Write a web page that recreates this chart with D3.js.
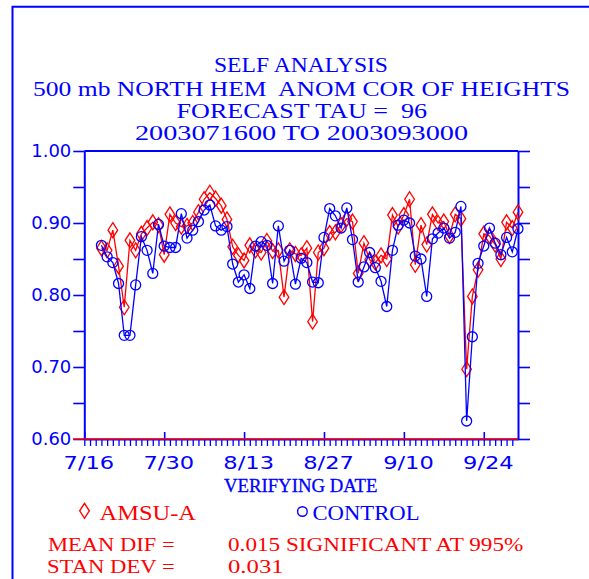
<!DOCTYPE html>
<html><head><meta charset="utf-8">
<script src="https://cdn.jsdelivr.net/npm/d3@7"></script>
<style>html,body{margin:0;padding:0;background:#fff;} svg{display:block;} text{white-space:pre;}</style>
</head><body>
<script>
// ---------------- data ----------------
const titleLines = ["SELF ANALYSIS", "500 mb NORTH HEM  ANOM COR OF HEIGHTS", "FORECAST TAU =  96", "2003071600 TO 2003093000"];
const axisStart = "2003-07-16";
const axisEnd = "2003-09-30";
const firstDataDay = "2003-07-19";
const amsuValues = [
  0.865, 0.862, 0.890, 0.840, 0.783, 0.876, 0.862, 0.885, 0.893, 0.901,
  0.897, 0.856, 0.912, 0.900, 0.895, 0.896, 0.900, 0.915, 0.933, 0.942,
  0.934, 0.924, 0.905, 0.867, 0.855, 0.848, 0.869, 0.862, 0.859, 0.875,
  0.861, 0.862, 0.797, 0.862, 0.857, 0.855, 0.865, 0.763, 0.859, 0.865,
  0.886, 0.887, 0.897, 0.906, 0.902, 0.830, 0.872, 0.849, 0.845, 0.855,
  0.850, 0.911, 0.895, 0.911, 0.933, 0.842, 0.897, 0.870, 0.912, 0.900,
  0.902, 0.882, 0.912, 0.906, 0.697, 0.798, 0.835, 0.885, 0.882, 0.870,
  0.850, 0.901, 0.893, 0.915
];
const controlValues = [
  0.869, 0.853, 0.845, 0.816, 0.744, 0.744, 0.814, 0.881, 0.862, 0.830,
  0.898, 0.868, 0.866, 0.866, 0.913, 0.879, 0.890, 0.902, 0.918, 0.925,
  0.896, 0.890, 0.895, 0.843, 0.818, 0.828, 0.809, 0.868, 0.874, 0.869,
  0.816, 0.896, 0.847, 0.862, 0.815, 0.851, 0.845, 0.818, 0.817, 0.880,
  0.920, 0.910, 0.893, 0.921, 0.877, 0.818, 0.839, 0.859, 0.838, 0.819,
  0.784, 0.862, 0.897, 0.904, 0.900, 0.854, 0.850, 0.798, 0.878, 0.886,
  0.893, 0.879, 0.887, 0.923, 0.625, 0.742, 0.844, 0.868, 0.893, 0.872,
  0.856, 0.880, 0.860, 0.892
];
const xTickLabels = ["7/16", "7/30", "8/13", "8/27", "9/10", "9/24"];
const yTickValues = [0.60, 0.65, 0.70, 0.75, 0.80, 0.85, 0.90, 0.95, 1.00];
const yTickLabels = ["0.60", "", "0.70", "", "0.80", "", "0.90", "", "1.00"];
const xAxisTitle = "VERIFYING DATE";
const legendNames = ["AMSU-A", "CONTROL"];
const statLabels = ["MEAN DIF =", "STAN DEV ="];
const statValues = ["0.015 SIGNIFICANT AT 995%", "0.031"];

// ---------------- drawing ----------------
const W = 589, H = 579;
const BLUE = "#0000ff", RED = "#ff0000";
const SERIF = "'Liberation Serif', 'DejaVu Serif', serif";
const SANS = "'DejaVu Sans', sans-serif";
const parseIso = d3.utcParse("%Y-%m-%d");
const parseMD = d3.utcParse("%Y/%m/%d");

const svg = d3.select("body").append("svg").attr("width", W).attr("height", H);
svg.append("rect").attr("width", W).attr("height", H).attr("fill", "#fff");

// frame
svg.append("path").attr("d", `M12.5,${H}V6.8H${W}`).attr("fill", "none").attr("stroke", BLUE).attr("stroke-width", 2);

const x = d3.scaleUtc().domain([parseIso(axisStart), parseIso(axisEnd)]).range([84.3, 518]);
const y = d3.scaleLinear().domain([0.6, 1.0]).range([439, 151]);

function txt(s, left, base, width, size, color, family, extraStroke) {
  const t = svg.append("text").attr("x", left).attr("y", base)
    .attr("font-family", family).attr("font-size", size)
    .attr("fill", color).attr("textLength", width).attr("lengthAdjust", "spacingAndGlyphs").text(s);
  if (extraStroke) t.attr("stroke", color).attr("stroke-width", extraStroke);
  return t;
}

// titles
const titleLeft = [214, 33, 176.6, 135];
const titleW = [174, 537, 250.5, 333];
const titleBase = [72.3, 95.5, 118.2, 140.3];
titleLines.forEach((t, i) => txt(t, titleLeft[i], titleBase[i], titleW[i], 20, BLUE, SERIF));

// left axis
const gl = svg.append("g").attr("transform", `translate(${x.range()[0]},0)`)
  .call(d3.axisLeft(y).tickValues(yTickValues).tickSize(11).tickSizeOuter(0).tickPadding(2)
    .tickFormat((d, i) => yTickLabels[i]));
gl.select(".domain").attr("stroke", BLUE).attr("stroke-width", 2);
gl.selectAll(".tick line").attr("stroke", BLUE).attr("stroke-width", 1.6);
gl.selectAll(".tick text").attr("fill", BLUE).attr("font-family", SANS).attr("font-size", 18);

// right axis
const gr = svg.append("g").attr("transform", `translate(${x.range()[1]},0)`)
  .call(d3.axisRight(y).tickValues(yTickValues).tickSize(12).tickSizeOuter(0).tickFormat(""));
gr.select(".domain").attr("stroke", BLUE).attr("stroke-width", 2);
gr.selectAll(".tick line").attr("stroke", BLUE).attr("stroke-width", 1.6);

// top border
svg.append("line").attr("x1", x.range()[0]).attr("x2", x.range()[1]).attr("y1", y(1.0)).attr("y2", y(1.0))
  .attr("stroke", BLUE).attr("stroke-width", 2);

// bottom axis: daily minor ticks downward
const days = d3.utcDay.range(parseIso(axisStart), parseIso(axisEnd));
const gb = svg.append("g").attr("transform", `translate(0,${y(0.6)})`)
  .call(d3.axisBottom(x).tickValues(days).tickSize(7).tickSizeOuter(0).tickFormat(""));
gb.select(".domain").attr("stroke", BLUE).attr("stroke-width", 2);
gb.selectAll(".tick line").attr("stroke", BLUE).attr("stroke-width", 1.3);

// major ticks upward
const majorDates = xTickLabels.map(l => parseMD("2003/" + l));
const gm = svg.append("g").attr("transform", `translate(0,${y(0.6)})`)
  .call(d3.axisTop(x).tickValues(majorDates).tickSize(7).tickSizeOuter(0).tickFormat(""));
gm.select(".domain").remove();
gm.selectAll(".tick line").attr("stroke", BLUE).attr("stroke-width", 1.6);

// red baseline
svg.append("line").attr("x1", 73).attr("x2", x.range()[1]).attr("y1", y(0.6)).attr("y2", y(0.6))
  .attr("stroke", RED).attr("stroke-width", 1.4);

// x tick labels
xTickLabels.forEach((l, i) => {
  const cx = x(majorDates[i]) + 4.6;
  txt(l, cx - 25.3, 469.3, 50.6, 18, BLUE, SANS);
});

// axis title
txt(xAxisTitle, 224, 491.7, 153.5, 19, BLUE, SERIF, 0.3);

// series
const firstDay = parseIso(firstDataDay);
const toPts = vals => vals.map((v, i) => ({ d: d3.utcDay.offset(firstDay, i), v }));
const amsu = toPts(amsuValues), ctrl = toPts(controlValues);
const line = d3.line().x(p => x(p.d)).y(p => y(p.v));
const diamond = (cx, cy) => `M${cx},${cy - 7.5}L${cx + 4.8},${cy}L${cx},${cy + 7.5}L${cx - 4.8},${cy}Z`;

svg.append("path").datum(amsu).attr("d", line).attr("fill", "none").attr("stroke", RED).attr("stroke-width", 1.3);
svg.append("g").selectAll("path").data(amsu).join("path")
  .attr("d", p => diamond(x(p.d), y(p.v))).attr("fill", "none").attr("stroke", RED).attr("stroke-width", 1.3);

svg.append("path").datum(ctrl).attr("d", line).attr("fill", "none").attr("stroke", BLUE).attr("stroke-width", 1.3);
svg.append("g").selectAll("circle").data(ctrl).join("circle")
  .attr("cx", p => x(p.d)).attr("cy", p => y(p.v)).attr("r", 5)
  .attr("fill", "none").attr("stroke", BLUE).attr("stroke-width", 1.3);

// legend
svg.append("path").attr("d", diamond(84.5, 510.8)).attr("fill", "none").attr("stroke", RED).attr("stroke-width", 1.4);
txt(legendNames[0], 99.5, 520, 96.5, 22, RED, SERIF);
svg.append("circle").attr("cx", 302.4).attr("cy", 511.5).attr("r", 4.8).attr("fill", "none").attr("stroke", BLUE).attr("stroke-width", 1.4);
txt(legendNames[1], 312.5, 520, 107, 22, BLUE, SERIF);

// stats
const statBase = [551, 573.3];
const statLeft = [48, 47];
const statLW = [126.7, 127.7];
const statVW = [295.3, 55.6];
statLabels.forEach((s, i) => {
  txt(s, statLeft[i], statBase[i], statLW[i], 19.5, RED, SERIF);
  txt(statValues[i], 228, statBase[i], statVW[i], 19.5, RED, SERIF);
});
</script>
</body></html>
